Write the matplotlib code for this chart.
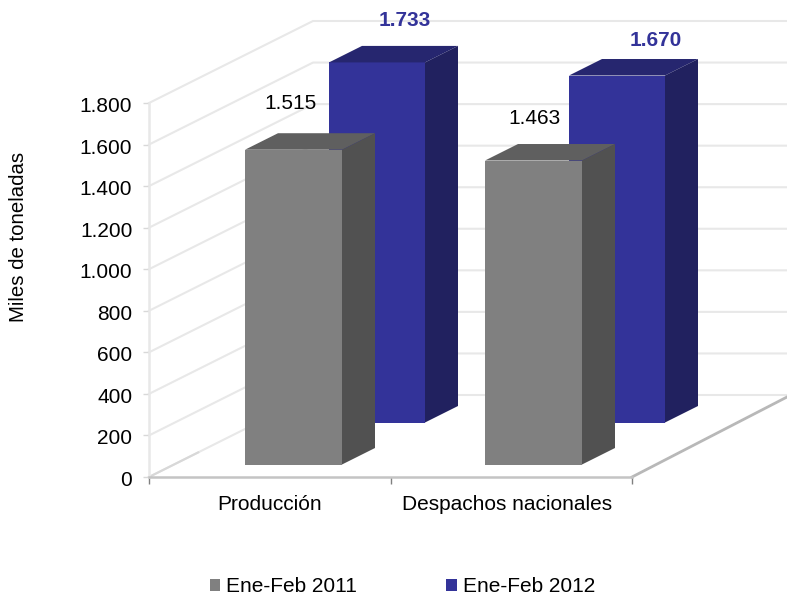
import matplotlib
matplotlib.use("Agg")
import matplotlib.pyplot as plt
from matplotlib.patches import Polygon, Patch
from matplotlib.transforms import ScaledTranslation

plt.rcParams['font.family'] = ['Liberation Sans', 'DejaVu Sans']

categories = ['Producción', 'Despachos nacionales']
series_names = ['Ene-Feb 2011', 'Ene-Feb 2012']
values_2011 = [1515, 1463]
values_2012 = [1733, 1670]
labels_2011 = ['1.515', '1.463']
labels_2012 = ['1.733', '1.670']
y_ticks = [0, 200, 400, 600, 800, 1000, 1200, 1400, 1600, 1800]
y_labels = ['0', '200', '400', '600', '800', '1.000', '1.200', '1.400', '1.600', '1.800']

W, H = 787, 597
FS = 15
fig = plt.figure(figsize=(W / 100, H / 100), dpi=100, facecolor='white')
L, R, B, T = 149, 632, 477, 103
ax = fig.add_axes([L / W, 1 - B / H, (R - L) / W, (B - T) / H])
ax.set_xlim(0, 2)
ax.set_ylim(0, 1800)
ax.patch.set_visible(False)

px = 2 / (R - L)          # data x per pixel
py = 1800 / (B - T)       # data y per pixel


def wx(p):
    return p * px


def wy(p):
    return p * py


# walls
wall_dx, wall_dy = wx(164), wy(82)
right_end = wx(787 - L)
for v in y_ticks:
    ax.plot([0, wall_dx, right_end], [v, v + wall_dy, v + wall_dy], color='#e8e8e8',
            lw=1.5, clip_on=False, zorder=1, solid_joinstyle='miter')
ax.plot([2, right_end], [0, wy(80)], color='#b8b8b8', lw=2, clip_on=False, zorder=2)
ax.plot([0, wall_dx * 0.3], [0, wall_dy * 0.3], color='#d8d8d8', lw=1.5, clip_on=False, zorder=2)


def bar3d(x_left_px, width_px, base_px, value, front, top, side, z):
    x0 = wx(x_left_px)
    w = wx(width_px)
    base = wy(base_px)
    dx, dy = wx(33), wy(16.5)
    ax.bar(x0, value, width=w, bottom=base, align='edge', color=front, lw=0, zorder=z, clip_on=False)
    t = base + value
    ax.add_patch(Polygon([(x0, t), (x0 + dx, t + dy), (x0 + w + dx, t + dy), (x0 + w, t)],
                         closed=True, fc=top, ec='none', zorder=z, clip_on=False))
    ax.add_patch(Polygon([(x0 + w, base), (x0 + w + dx, base + dy), (x0 + w + dx, t + dy), (x0 + w, t)],
                         closed=True, fc=side, ec='none', zorder=z, clip_on=False))


GRAY = ('#808080', '#5f5f5f', '#515151')
BLUE = ('#333399', '#26266f', '#21215f')

for i in range(2):
    off = i * 240
    bar3d(180 + off, 96, 54.5, values_2012[i], *BLUE, 3 + i * 2)
    bar3d(96 + off, 97, 12.5, values_2011[i], *GRAY, 4 + i * 2)

# value labels
pos_2011 = [(291, 104), (534, 118)]
pos_2012 = [(405, 20), (656, 40)]
for (x, y), s in zip(pos_2011, labels_2011):
    fig.text(x / W, 1 - y / H, s, ha='center', va='center', fontsize=FS, color='black', zorder=10)
for (x, y), s in zip(pos_2012, labels_2012):
    fig.text(x / W, 1 - y / H, s, ha='center', va='center', fontsize=FS, color='#333399',
             fontweight='bold', zorder=10)

# axes
for s in ('top', 'right'):
    ax.spines[s].set_visible(False)
ax.spines['bottom'].set_color('#c4c4c4')
ax.spines['bottom'].set_linewidth(1.8)
ax.spines['left'].set_color('#e8e8e8')
ax.spines['left'].set_linewidth(1.8)
ax.set_yticks(y_ticks, y_labels, fontsize=FS)
ax.tick_params(axis='y', length=4, width=1, color='#d8d8d8', pad=8)
shift = ScaledTranslation(0, -1.5 / 100, fig.dpi_scale_trans)
for lab in ax.get_yticklabels():
    lab.set_verticalalignment('center_baseline')
    lab.set_transform(lab.get_transform() + shift)
ax.set_xticks([0, 1, 2], [''] * 3)
ax.tick_params(axis='x', length=5, width=1, color='#808080')
label_shift = [0, -4]
for i, c in enumerate(categories):
    ax.annotate(c, xy=(i + 0.5, 0), xytext=(label_shift[i], -27), textcoords='offset pixels',
                ha='center', va='center', fontsize=FS, annotation_clip=False)
fig.text(19 / W, 1 - 237 / H, 'Miles de toneladas', rotation=90, ha='center', va='center', fontsize=14.7)

handles = [Patch(fc='#808080', ec='none', label=series_names[0]),
           Patch(fc='#333399', ec='none', label=series_names[1])]
fig.legend(handles=handles, ncol=2, loc='center', bbox_to_anchor=(402.5 / W, 1 - 587 / H), frameon=False,
           fontsize=FS, handlelength=0.5, handleheight=0.5, handletextpad=0.3, columnspacing=4.28,
           borderpad=0, borderaxespad=0)

fig.savefig('out.png', dpi=100, facecolor='white')
